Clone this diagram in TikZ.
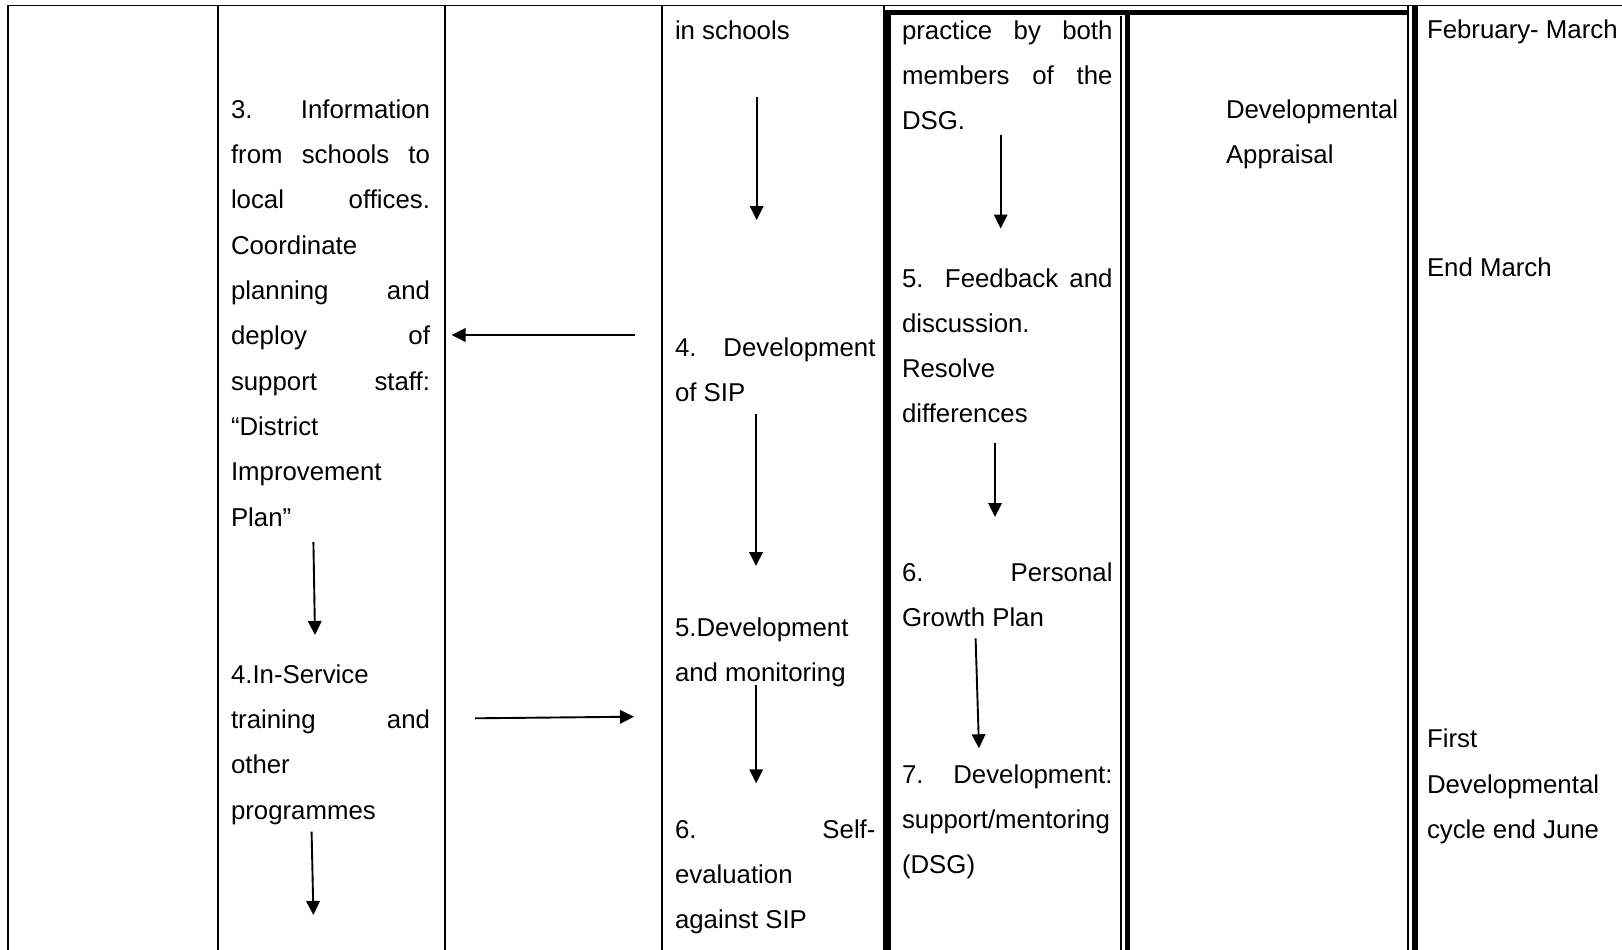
\documentclass[tikz,border=0pt]{standalone}
\usepackage{fontspec}
\setmainfont{Liberation Sans}
\usetikzlibrary{arrows.meta}
\newcommand\Jl[2]{\makebox[#1][s]{#2}}
\begin{document}
\begin{tikzpicture}[x=1pt,y=-1pt,
  tl/.style={anchor=base west, inner sep=0pt, outer sep=0pt, font=\fontsize{25.8}{30}\selectfont},
  gridline/.style={line width=1.7pt},
  framethin/.style={line width=1.4pt},
  framethick/.style={line width=5.8pt},
  arr/.style={line width=1.9pt, -{Triangle[length=14pt,width=13.5pt]}}]
\useasboundingbox (0,0) rectangle (1622,950);
% table grid
\draw[gridline] (8,950) -- (8,5.5) -- (1622,5.5);
\draw[gridline] (218,5.5) -- (218,950);
\draw[gridline] (445,5.5) -- (445,950);
\draw[gridline] (662,5.5) -- (662,950);
% double frame round columns 5 and 6
\draw[framethin] (884,5.5) -- (884,950);
\draw[framethin] (1121,16) -- (1121,950);
\draw[framethin] (1408,5.5) -- (1408,950);
\draw[framethick] (885.5,12.5) -- (1408,12.5);
\draw[framethick] (888.3,9.8) -- (888.3,950);
\draw[framethick] (1127.5,9.8) -- (1127.5,950);
\draw[framethick] (1415,5) -- (1415,950);
% column 2
\node[tl] (c2a) at (231,118.3) {\Jl{199pt}{3.\hfill Information}};
\node[tl] (c2b) at (231,163.6) {\Jl{199pt}{from schools to}};
\node[tl] (c2c) at (231,208.9) {\Jl{199pt}{local offices.}};
\node[tl] (c2d) at (231,254.2) {Coordinate};
\node[tl] (c2e) at (231,299.5) {\Jl{199pt}{planning and}};
\node[tl] (c2f) at (231,344.8) {\Jl{199pt}{deploy of}};
\node[tl] (c2g) at (231,390.1) {\Jl{199pt}{support staff:}};
\node[tl] (c2h) at (231,435.4) {“District};
\node[tl] (c2i) at (231,480.7) {Improvement};
\node[tl] (c2j) at (231,526.0) {Plan”};
\node[tl] (c2k) at (231,683.3) {4.In-Service};
\node[tl] (c2l) at (231,728.6) {\Jl{199pt}{training and}};
\node[tl] (c2m) at (231,773.9) {other};
\node[tl] (c2n) at (231,819.2) {programmes};
% column 4
\node[tl] (c4a) at (675,39.3) {in schools};
\node[tl] (c4b) at (675,356) {\Jl{200.5pt}{4. Development}};
\node[tl] (c4c) at (675,401.2) {of SIP};
\node[tl] (c4d) at (675,636.3) {5.Development};
\node[tl] (c4e) at (675,681.5) {and monitoring};
\node[tl] (c4f) at (675,838.3) {\Jl{200.5pt}{6.\hfill Self-}};
\node[tl] (c4g) at (675,883.5) {evaluation};
\node[tl] (c4h) at (675,928.7) {against SIP};
% column 5
\node[tl] (c5a) at (902,39.3) {\Jl{210.5pt}{practice by both}};
\node[tl] (c5b) at (902,84.5) {\Jl{210.5pt}{members of the}};
\node[tl] (c5c) at (902,129.7) {DSG.};
\node[tl] (c5d) at (902,287.3) {\Jl{210.5pt}{5. Feedback and}};
\node[tl] (c5e) at (902,332.5) {discussion.};
\node[tl] (c5f) at (902,377.7) {Resolve};
\node[tl] (c5g) at (902,422.9) {differences};
\node[tl] (c5h) at (902,581.5) {\Jl{210.5pt}{6.\hfill Personal}};
\node[tl] (c5i) at (902,626.7) {Growth Plan};
\node[tl] (c5j) at (902,783.3) {\Jl{210.5pt}{7.\hfill Development:}};
\node[tl] (c5k) at (902,828.5) {support/mentoring};
\node[tl] (c5l) at (902,873.7) {(DSG)};
% column 6
\node[tl] (c6a) at (1226,118.3) {Developmental};
\node[tl] (c6b) at (1226,163.6) {Appraisal};
% column 7
\node[tl] (c7a) at (1427,38.5) {February- March};
\node[tl] (c7b) at (1427,276.2) {End March};
\node[tl] (c7c) at (1427,747.8) {First};
\node[tl] (c7d) at (1427,793.1) {Developmental};
\node[tl] (c7e) at (1427,838.4) {cycle end June};
% arrow end points
\coordinate (a1s) at (756.7,96.7);  \coordinate (a1e) at (756.7,220);
\coordinate (a2s) at (1000.7,135);  \coordinate (a2e) at (1000.7,228.5);
\coordinate (a3s) at (635,335);     \coordinate (a3e) at (451.5,335);
\coordinate (a4s) at (756,414);     \coordinate (a4e) at (756,566);
\coordinate (a5s) at (995,443);     \coordinate (a5e) at (995,517);
\coordinate (a6s) at (313.4,542);   \coordinate (a6e) at (315,635);
\coordinate (a7s) at (475,718.3);   \coordinate (a7e) at (634,716.7);
\coordinate (a8s) at (756.2,685);   \coordinate (a8e) at (756.2,783.3);
\coordinate (a9s) at (975.6,638.3); \coordinate (a9e) at (979,748.3);
\coordinate (a10s) at (311.6,831.7); \coordinate (a10e) at (313.4,915);
\foreach \i in {1,...,10} {\draw[arr] (a\i s) -- (a\i e);}
\end{tikzpicture}
\end{document}
